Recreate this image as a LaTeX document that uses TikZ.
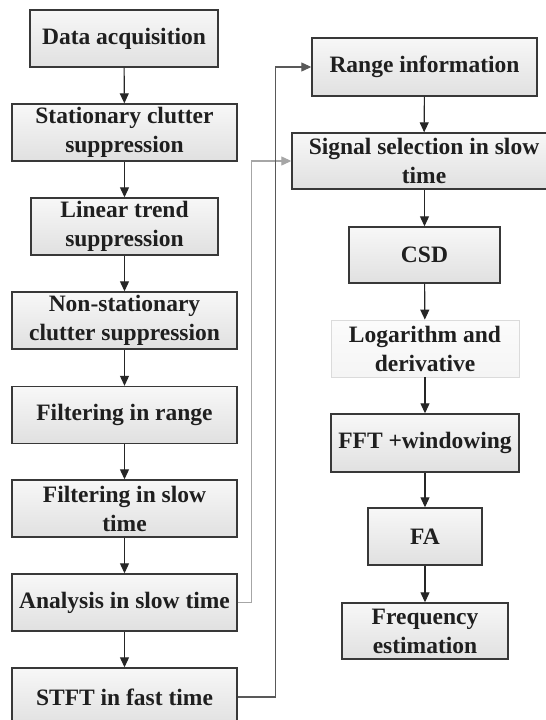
\documentclass[tikz,border=0pt]{standalone}
\usepackage{fontspec}
\setmainfont{Liberation Serif}[BoldFont={Liberation Serif Bold}]
\usetikzlibrary{arrows.meta,shadings}
\tikzset{
  box/.style={draw=black!78, line width=1.4pt, top color=gray!6, bottom color=gray!24,
    minimum height=57pt, inner sep=0pt, align=center,
    font=\fontsize{23.5}{29}\selectfont\bfseries, text=black!88},
  lightbox/.style={box, draw=gray!28, line width=0.8pt, top color=gray!3, bottom color=gray!8},
  flow/.style={draw=black!85, line width=1.1pt, -{Triangle[length=10pt,width=9pt]}},
  back/.style={draw=gray!70, line width=1.1pt, -{Triangle[length=10pt,width=9pt]}},
  backdark/.style={draw=black!65, line width=1.1pt, -{Triangle[length=10pt,width=9pt]}},
}
\begin{document}
\begin{tikzpicture}[x=1pt,y=1pt]
\clip (0,0) rectangle (546,-720);
\fill[white] (0,0) rectangle (546,-720);
% left column
\node[box, minimum width=188pt] (da)   at (124,-38.5)  {Data acquisition};
\node[box, minimum width=225pt] (scs)  at (124.5,-132.5) {Stationary clutter\\suppression};
\node[box, minimum width=187pt] (lts)  at (124.5,-226.5) {Linear trend\\suppression};
\node[box, minimum width=225pt] (nscs) at (124.5,-320.5) {Non-stationary\\clutter suppression};
\node[box, minimum width=225pt] (fr)   at (124.5,-415)   {Filtering in range};
\node[box, minimum width=225pt] (fst)  at (124.5,-508.5) {Filtering in slow\\time};
\node[box, minimum width=225pt] (ast)  at (124.5,-602.5) {Analysis in slow time};
\node[box, minimum width=225pt, minimum height=58pt] (stft) at (124.5,-697) {STFT in fast time};
% right column
\node[box, minimum width=225pt, minimum height=58pt] (ri) at (424.5,-67) {Range information};
\node[box, minimum width=264pt, minimum height=56pt] (sss) at (424,-161) {Signal selection in slow\\time};
\node[box, minimum width=151pt, minimum height=56pt] (csd) at (424.5,-255) {CSD};
\node[lightbox, minimum width=188pt] (lad) at (425,-348.5) {Logarithm and\\derivative};
\node[box, minimum width=188pt, minimum height=58pt] (fft) at (425,-443) {FFT +windowing};
\node[box, minimum width=114pt] (fa) at (425,-536.5) {FA};
\node[box, minimum width=166pt, minimum height=56pt] (fe) at (425,-631) {Frequency\\estimation};
% flow arrows
\draw[flow] (da) -- (scs);
\draw[flow] (scs) -- (lts);
\draw[flow] (lts) -- (nscs);
\draw[flow] (nscs) -- (fr);
\draw[flow] (fr) -- (fst);
\draw[flow] (fst) -- (ast);
\draw[flow] (ast) -- (stft);
\draw[flow] (ri) -- (sss);
\draw[flow] (sss.south -| csd.north) -- (csd);
\draw[flow] (csd) -- (lad);
\draw[flow] (lad) -- (fft);
\draw[flow] (fft) -- (fa);
\draw[flow] (fa) -- (fe);
% feedback connectors
\draw[back] (ast.east) -- ++(14,0) |- (sss.west);
\draw[backdark] (stft.east) -- ++(38,0) |- (ri.west);
\end{tikzpicture}
\end{document}
